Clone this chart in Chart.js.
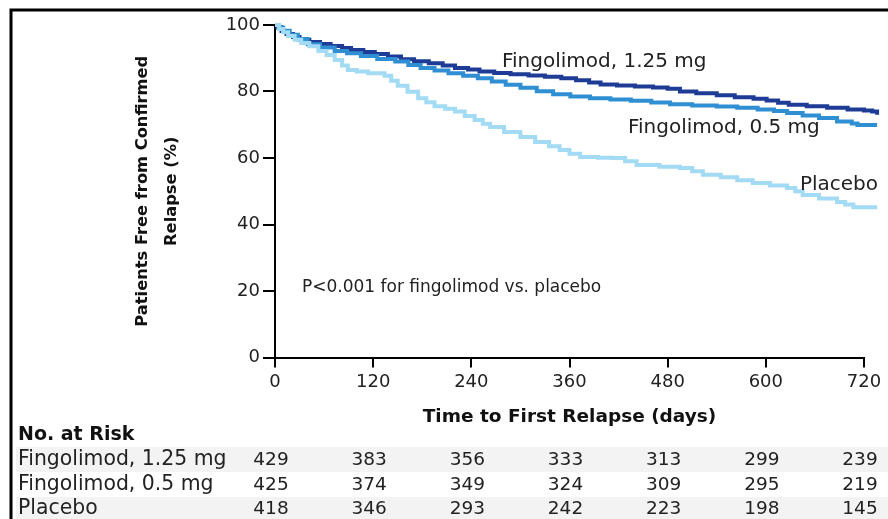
<!DOCTYPE html>
<html>
<head>
<meta charset="utf-8">
<script src="https://cdn.jsdelivr.net/npm/chart.js@4.4.1/dist/chart.umd.min.js"></script>
<style>
  body { margin: 0; background: #fff; }
  #wrap { width: 888px; height: 519px; }
</style>
</head>
<body>
<div id="wrap"><canvas id="kmChart" width="888" height="519"></canvas></div>
<script>
// --- DATA ---
const xTicks = [0, 120, 240, 360, 480, 600, 720];
const yTicks = [0, 20, 40, 60, 80, 100];

const f125Days = [0, 3, 8, 14, 22, 30, 42, 55, 68, 82, 93, 108, 122, 138, 154, 170, 188, 205, 220, 236, 250, 268, 288, 310, 330, 350, 368, 384, 398, 418, 440, 462, 480, 495, 515, 540, 562, 585, 601, 615, 628, 650, 675, 700, 720, 730, 736];
const f125Free = [100, 99.3, 98.2, 97.3, 96.4, 95.6, 94.9, 94.3, 93.7, 93.1, 92.5, 91.9, 91.3, 90.5, 89.7, 89.1, 88.5, 87.8, 87.1, 86.6, 86.0, 85.6, 85.2, 84.8, 84.4, 84.0, 83.4, 82.7, 82.1, 81.8, 81.5, 81.2, 80.8, 80.0, 79.5, 78.9, 78.3, 77.8, 77.3, 76.6, 76.0, 75.6, 75.1, 74.6, 74.3, 74.0, 73.0];

const f05Days = [0, 4, 10, 18, 28, 40, 55, 73, 88, 105, 125, 147, 163, 178, 195, 212, 230, 248, 265, 282, 300, 320, 340, 361, 385, 410, 435, 460, 483, 510, 540, 565, 590, 610, 626, 645, 665, 687, 705, 712, 736];
const f05Free = [100, 99.2, 98.3, 97.1, 95.8, 94.2, 93.2, 92.2, 91.5, 90.7, 89.8, 89.0, 88.0, 87.1, 86.3, 85.5, 84.7, 84.0, 83.0, 82.0, 81.1, 80.1, 79.2, 78.5, 78.0, 77.6, 77.2, 76.7, 76.2, 75.8, 75.5, 75.1, 74.6, 74.1, 73.5, 72.8, 72.0, 71.0, 70.4, 69.9, 69.9];

const placeboDays = [0, 5, 10, 16, 24, 32, 42, 53, 63, 73, 82, 89, 100, 114, 134, 142, 150, 162, 175, 185, 195, 208, 220, 232, 244, 254, 263, 280, 300, 318, 335, 348, 360, 373, 395, 413, 428, 442, 470, 495, 510, 523, 545, 565, 584, 605, 626, 636, 645, 665, 687, 697, 707, 736];
const placeboFree = [100, 98.8, 97.8, 96.7, 95.6, 94.6, 93.6, 92.2, 91.0, 89.5, 87.8, 86.5, 86.0, 85.5, 84.7, 83.2, 81.7, 79.9, 78.0, 76.8, 75.6, 74.8, 74.0, 72.6, 71.4, 70.3, 69.3, 67.8, 66.3, 64.8, 63.5, 62.4, 61.3, 60.3, 60.1, 60.0, 59.0, 57.9, 57.4, 57.0, 56.0, 55.0, 54.2, 53.3, 52.5, 51.7, 51.0, 50.0, 48.9, 47.8, 46.8, 46.0, 45.2, 45.2];

const riskGroups = ['Fingolimod, 1.25 mg', 'Fingolimod, 0.5 mg', 'Placebo'];
const riskF125 = [429, 383, 356, 333, 313, 299, 239];
const riskF05 = [425, 374, 349, 324, 309, 295, 219];
const riskPlacebo = [418, 346, 293, 242, 223, 198, 145];

const FONT = "'DejaVu Sans', sans-serif";

function toPoints(days, vals) {
    return days.map((d, i) => ({ x: d, y: vals[i] }));
}

// --- EXTRA DRAWING: frame, curve labels, risk table ---
const extrasPlugin = {
    id: 'extras',
    afterDraw(chart) {
        const ctx = chart.ctx;
        const xs = chart.scales.x;
        const ys = chart.scales.y;
        ctx.save();

        // frame (left + top)
        ctx.strokeStyle = '#000';
        ctx.lineWidth = 3;
        ctx.beginPath();
        ctx.moveTo(11, 519);
        ctx.lineTo(11, 10);
        ctx.lineTo(888, 10);
        ctx.stroke();

        // curve labels
        ctx.fillStyle = '#222';
        ctx.textBaseline = 'middle';
        ctx.textAlign = 'left';
        ctx.font = `20px ${FONT}`;
        ctx.fillText('Fingolimod, 1.25 mg', xs.getPixelForValue(277.5), ys.getPixelForValue(88.9));
        ctx.fillText('Fingolimod, 0.5 mg', xs.getPixelForValue(431.5), ys.getPixelForValue(69.0));
        ctx.fillText('Placebo', xs.getPixelForValue(641.7), ys.getPixelForValue(51.9));
        ctx.font = `17px ${FONT}`;
        ctx.fillText('P<0.001 for fingolimod vs. placebo', xs.getPixelForValue(33), ys.getPixelForValue(20.9));

        // risk table
        const rows = [riskF125, riskF05, riskPlacebo];
        const rowY = [460, 485, 509];
        ctx.fillStyle = '#f3f3f3';
        ctx.fillRect(16, 447, 872, 25);
        ctx.fillRect(16, 497, 872, 22);

        ctx.fillStyle = '#111';
        ctx.font = `bold 19px ${FONT}`;
        ctx.fillText('No. at Risk', 18, 435);

        rows.forEach((vals, r) => {
            ctx.textAlign = 'left';
            ctx.font = `20.4px ${FONT}`;
            ctx.fillStyle = '#222';
            ctx.fillText(riskGroups[r], 18, rowY[r]);
            ctx.textAlign = 'center';
            ctx.font = `18.5px ${FONT}`;
            vals.forEach((v, i) => {
                ctx.fillText(String(v), xs.getPixelForValue(xTicks[i]) - 4, rowY[r]);
            });
        });
        ctx.restore();
    }
};

new Chart(document.getElementById('kmChart'), {
    type: 'line',
    data: {
        datasets: [
            { label: 'Placebo', data: toPoints(placeboDays, placeboFree), borderColor: '#a2dbf3' },
            { label: 'Fingolimod, 0.5 mg', data: toPoints(f05Days, f05Free), borderColor: '#2f8fd2' },
            { label: 'Fingolimod, 1.25 mg', data: toPoints(f125Days, f125Free), borderColor: '#1e3c96' }
        ].map(ds => Object.assign(ds, { borderWidth: 4, pointRadius: 0, stepped: true, fill: false, clip: false }))
    },
    options: {
        responsive: false,
        animation: false,
        layout: { padding: { left: 0, top: 25, right: 24, bottom: 91 } },
        plugins: { legend: { display: false }, tooltip: { enabled: false } },
        scales: {
            x: {
                type: 'linear',
                min: 0,
                bounds: 'data',
                afterDataLimits: s => { s.max = 720; },
                afterBuildTicks: s => { s.ticks = xTicks.map(v => ({ value: v })); },
                afterFit: s => { s.height = 70.5; },
                grid: { drawOnChartArea: false, color: '#000', lineWidth: 2, tickLength: 10 },
                border: { display: true, color: '#000', width: 2 },
                ticks: { color: '#222', font: { family: FONT, size: 18 }, padding: 4, maxRotation: 0, stepSize: 120 },
                title: { display: true, text: 'Time to First Relapse (days)', color: '#111', font: { family: FONT, size: 18.5, weight: 'bold' }, padding: { top: 4, bottom: 0 } }
            },
            y: {
                min: 0,
                max: 100,
                afterBuildTicks: s => { s.ticks = yTicks.map(v => ({ value: v })); },
                afterFit: s => { s.width = 275; },
                grid: { drawOnChartArea: false, color: '#000', lineWidth: 2, tickLength: 12 },
                border: { display: true, color: '#000', width: 2 },
                ticks: { color: '#222', font: { family: FONT, size: 18 }, padding: 3 },
                title: { display: true, text: ['Patients Free from Confirmed', 'Relapse (%)'], color: '#111', font: { family: FONT, size: 16.3, weight: 'bold', lineHeight: 1.75 }, padding: { top: 129, bottom: 0 } }
            }
        }
    },
    plugins: [extrasPlugin]
});
</script>
</body>
</html>
